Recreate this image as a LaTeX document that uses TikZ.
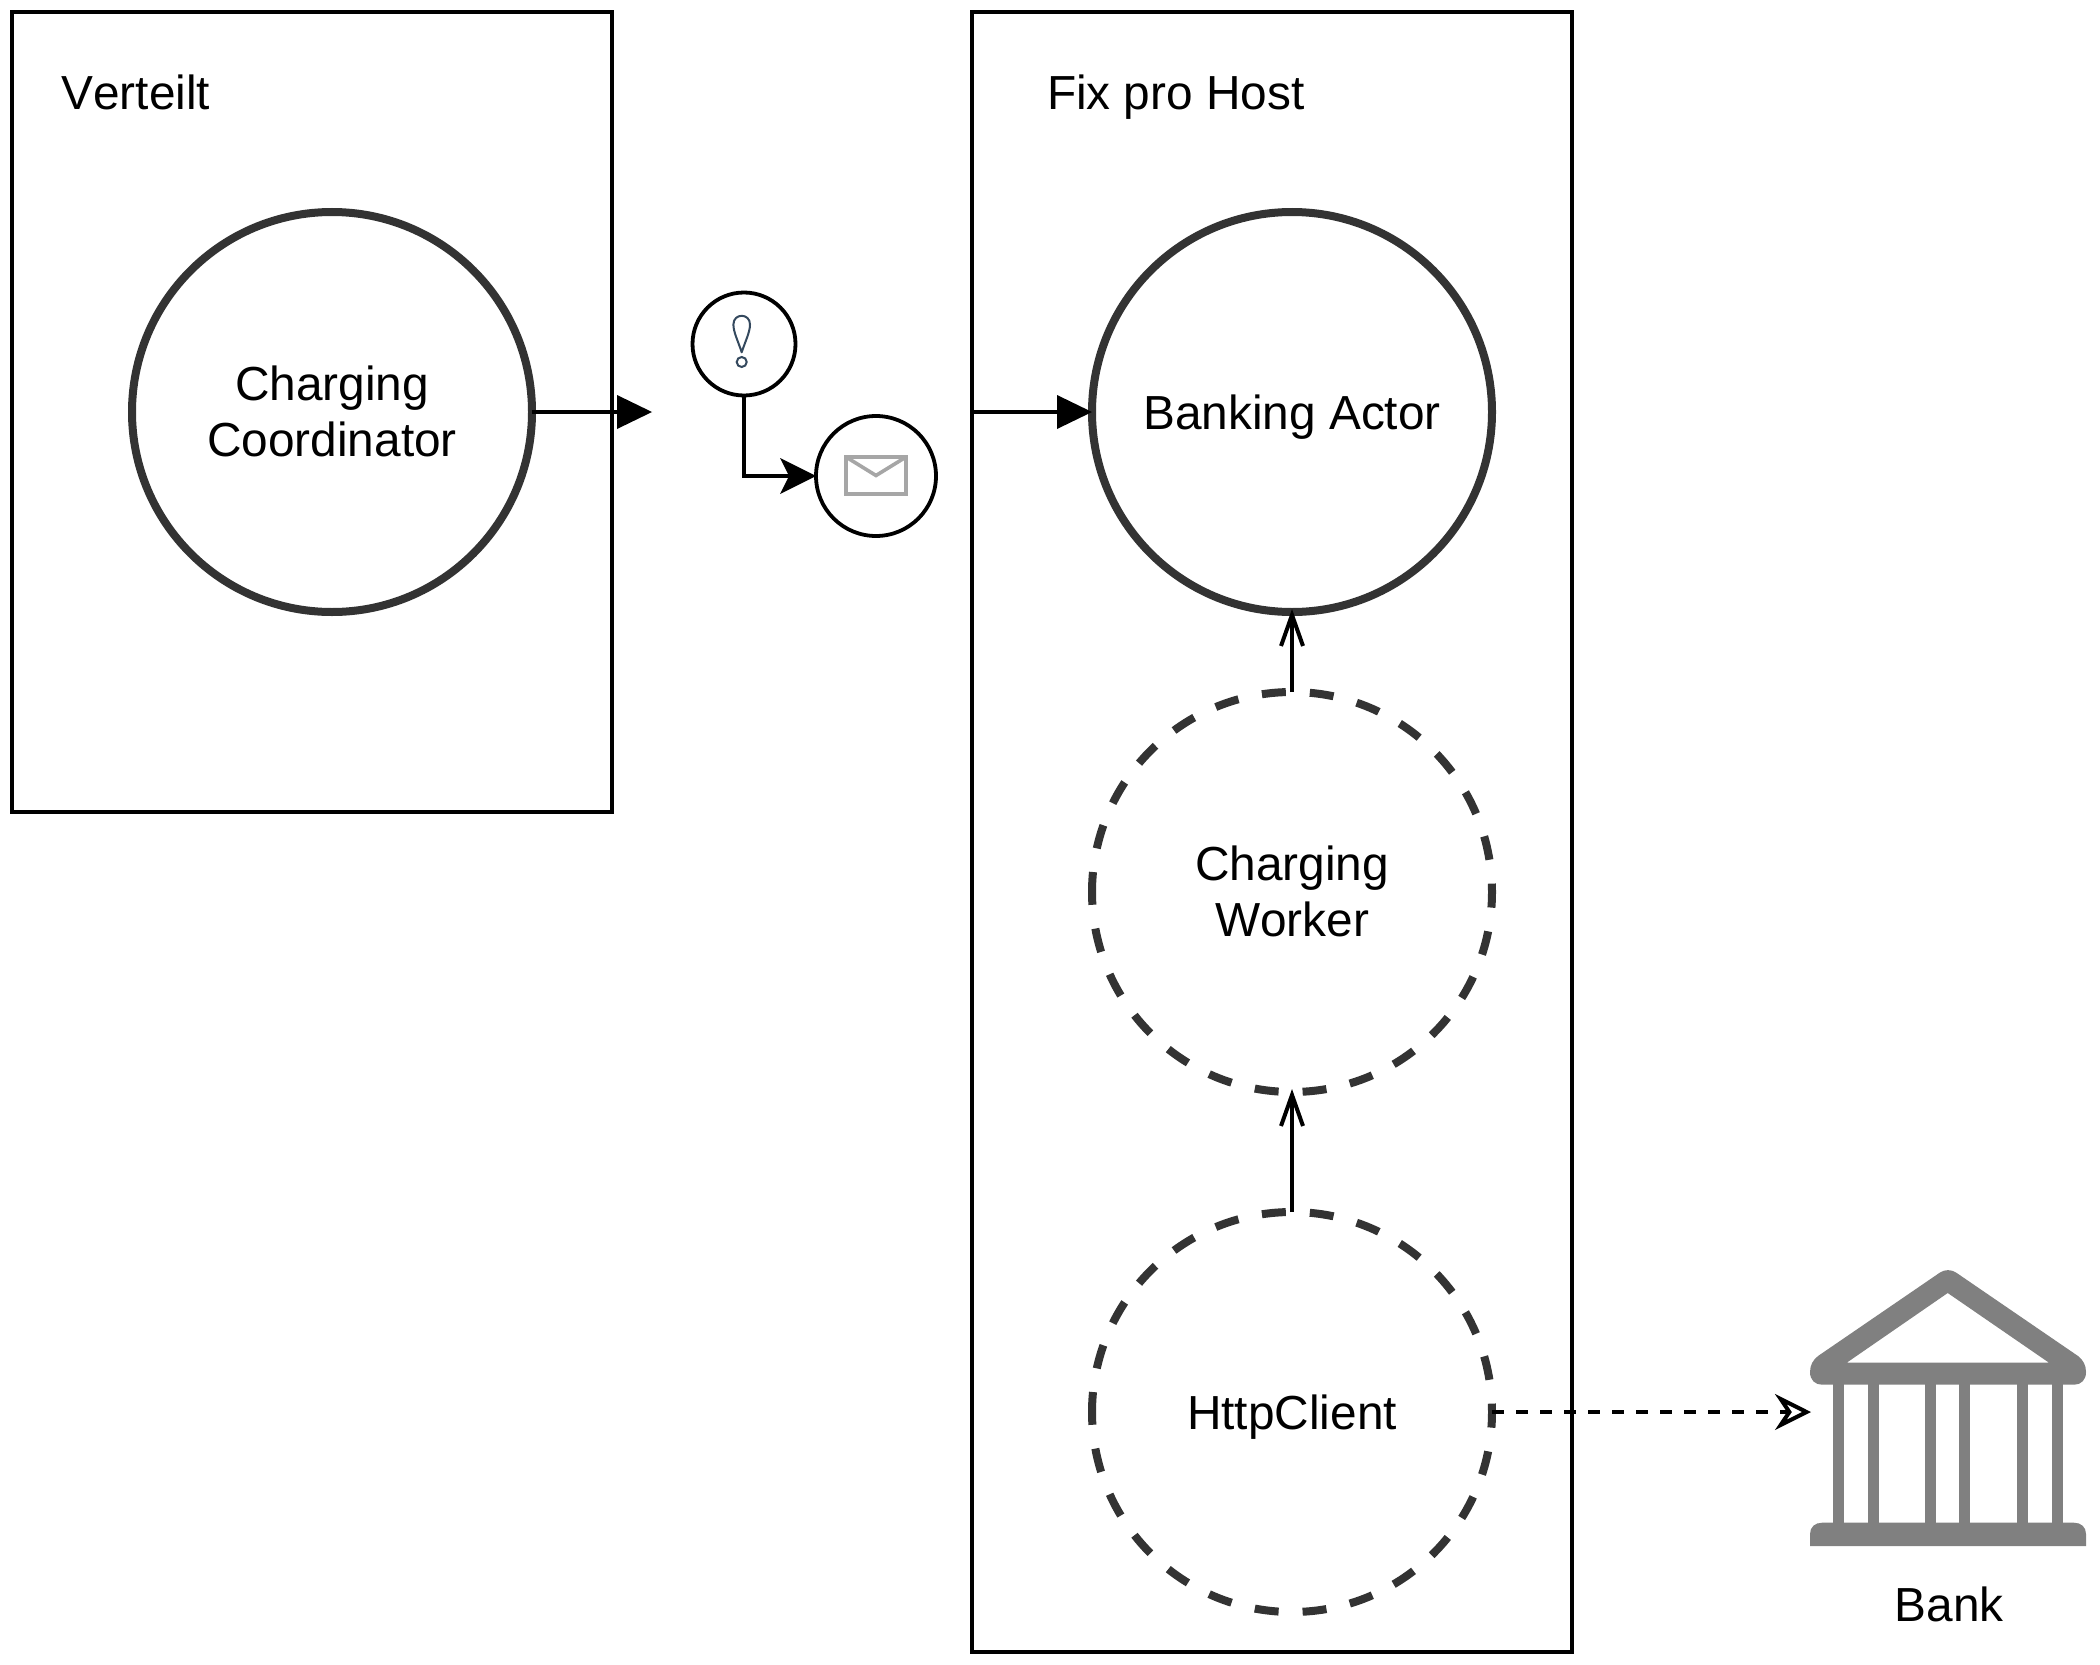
\documentclass[tikz,border=0pt]{standalone}
\usepackage{fontspec}
\setmainfont[Kerning=Off]{Liberation Sans}
\usetikzlibrary{arrows.meta}
\definecolor{ringcol}{HTML}{333333}
\definecolor{bankcol}{HTML}{808080}
\definecolor{mailcol}{HTML}{A6A6A6}
\definecolor{alertcol}{HTML}{34495E}
\tikzset{
  lbl/.style={font=\fontsize{47.8}{56}\selectfont, inner sep=0pt, outer sep=0pt},
  frame/.style={draw=black, line width=4pt, fill=white, rectangle, inner sep=0pt, outer sep=0pt},
  ring/.style={circle, inner sep=0pt, outer sep=0pt, minimum size=400pt, align=center, lbl, text height=35pt, text depth=0pt},
  tworing/.style={ring, text height=88pt},
  solidring/.style={draw=ringcol, line width=8pt},
  dashring/.style={draw=ringcol, line width=8pt, dash pattern=on 24pt off 24pt, dash phase=4pt},
  bpmn/.style={circle, draw=black, line width=3.8pt, inner sep=0pt, outer sep=0pt, fill=white},
  flow/.style={draw=black, line width=4pt, -{Triangle[length=35pt,width=34pt,line width=0pt]}},
  flownotch/.style={draw=black, line width=4pt, -{Stealth[length=36pt,width=36pt,inset=9pt,line width=0pt]}},
  barb/.style={draw=black, line width=4pt, line join=miter, shorten >=-3pt, -{Straight Barb[length=31pt,width=22pt,line width=4pt]}},
  callout/.style={draw=black, line width=4pt, dash pattern=on 12pt off 12pt, -{Stealth[open,length=36pt,width=36pt,inset=12pt,line width=4pt]}},
}
\begin{document}
\begin{tikzpicture}[x=1pt,y=1pt]
\useasboundingbox (0,0) rectangle (2100,-1664);
\fill[white] (0,0) rectangle (2100,-1664);

% containers
\node[frame, minimum width=600pt, minimum height=800pt] (distbox) at (312,-412) {};
\node[frame, minimum width=600pt, minimum height=1640pt] (hostbox) at (1272,-832) {};
\node[lbl, anchor=base west] (disttext) at (61.5,-109.5) {Verteilt};
\node[lbl, anchor=base west] (hosttext) at (1047,-109.5) {Fix pro Host};

% actors
\node[tworing, solidring] (coord) at (332,-412) {Charging\\Coordinator};
\node[ring, solidring] (actor) at (1292,-412) {Banking Actor};
\node[tworing] (worker) at (1292,-892) {Charging\\Worker};
\node[ring] (client) at (1292,-1412) {HttpClient};
\draw[dashring] (worker.west) arc[start angle=180,end angle=-180,radius=200pt];
\draw[dashring] (client.west) arc[start angle=180,end angle=-180,radius=200pt];

% BPMN events
\node[bpmn, minimum size=103pt] (alert) at (744,-344) {};
\node[bpmn, minimum size=120pt] (mail) at (876,-476) {};
\draw[draw=alertcol, line width=2pt, line join=round]
  (741.7,-352.3) .. controls (738,-341) and (733.4,-332) .. (733.4,-324.5)
  .. controls (733.4,-312.9) and (750,-312.9) .. (750,-324.5)
  .. controls (750,-332) and (745.4,-341) .. cycle;
\draw[draw=alertcol, line width=2pt] (741.7,-362) circle[radius=5pt];
\draw[draw=mailcol, line width=3.6pt, line join=miter]
  (846,-457) rectangle (906,-494);
\draw[draw=mailcol, line width=3.6pt, line join=miter]
  (846,-457) -- (876,-475.5) -- (906,-457);

% bank icon
\fill[bankcol, even odd rule]
  (1818,-1356) -- (1940,-1272.5) .. controls (1945,-1269.3) and (1951,-1269.3) .. (1956,-1272.5)
  -- (2078,-1356) .. controls (2083,-1360) and (2086,-1365) .. (2086,-1372)
  .. controls (2086,-1380) and (2081,-1384.7) .. (2074,-1384.7)
  -- (1822,-1384.7) .. controls (1815,-1384.7) and (1810,-1380) .. (1810,-1372)
  .. controls (1810,-1365) and (1813,-1360) .. (1818,-1356) -- cycle
  (1947.7,-1293) -- (2049,-1362.7) -- (1846.7,-1362.7) -- cycle;
\foreach \cl in {1833.3,1868.2,1925.3,1959.3,2017.2,2051.7}
  \fill[bankcol] (\cl,-1384) rectangle ++(11,-140);
\fill[bankcol]
  (1810,-1546) -- (1810,-1534) .. controls (1810,-1527) and (1815,-1522.7) .. (1822,-1522.7)
  -- (2074,-1522.7) .. controls (2081,-1522.7) and (2086,-1527) .. (2086,-1534)
  -- (2086,-1546) -- cycle;
\node[lbl, anchor=base] (banktext) at (1949,-1621.5) {Bank};
\coordinate (bankin) at (1811,-1412);

% connectors
\coordinate (coordout) at (652,-412);
\coordinate (actorin) at (972,-412);
\draw[flow] (coord.east) -- (coordout);
\draw[flow] (actorin) -- (actor.west);
\draw[flownotch] (alert.south) |- (mail.west);
\draw[barb] (worker.north) -- (actor.south);
\draw[barb] (client.north) -- (worker.south);
\draw[callout] (client.east) -- (bankin);
\end{tikzpicture}
\end{document}
